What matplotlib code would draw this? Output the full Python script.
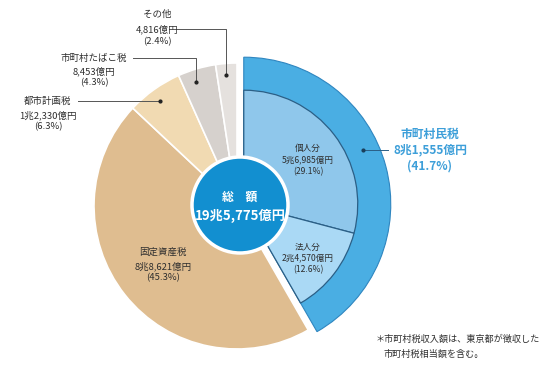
import numpy as np
import matplotlib
matplotlib.use("Agg")
import matplotlib.pyplot as plt
from matplotlib.patches import Circle

plt.rcParams['font.family'] = ['Noto Sans CJK JP', 'DejaVu Sans']

# ---- data ----
main_labels = ["市町村民税", "固定資産税", "都市計画税", "市町村たばこ税", "その他"]
main_amounts = ["8兆1,555億円", "8兆8,621億円", "1兆2,330億円", "8,453億円", "4,816億円"]
main_pcts = [41.7, 45.3, 6.3, 4.3, 2.4]
sub_labels = ["個人分", "法人分"]
sub_amounts = ["5兆6,985億円", "2兆4,570億円"]
sub_pcts = [29.1, 12.6]
total_label = "総　額"
total_amount = "19兆5,775億円"
footnote = ["＊市町村税収入額は、東京都が徴収した", "市町村税相当額を含む。"]

main_colors = ["#4aaee3", "#dfbd90", "#f1dab2", "#d6d1cd", "#e5e1de"]
sub_colors = ["#8fc7eb", "#aad9f5"]

W, H = 555, 377
fig = plt.figure(figsize=(W / 100, H / 100), dpi=100)
ax = fig.add_axes([0, 0, 1, 1])

def Y(y):
    return H - y

cx, cy, R = 237, Y(206), 143
expl = 7.0

wedges, _ = ax.pie(main_pcts, radius=R, center=(cx, cy), startangle=90,
                   counterclock=False, colors=main_colors,
                   explode=[expl, 0, 0, 0, 0],
                   wedgeprops=dict(edgecolor="white", linewidth=1.2))
wedges[0].set_radius(R + 4)
wedges[0].set_edgecolor("#2f86c0")
wedges[0].set_linewidth(0.8)

# explosion offset of the blue wedge
mid = np.deg2rad(90 - main_pcts[0] * 3.6 / 2)
bx = cx + expl * np.cos(mid)
by = cy + expl * np.sin(mid)

sw, _ = ax.pie(sub_pcts + [100 - sum(sub_pcts)], radius=114, center=(bx, by),
               startangle=90, counterclock=False,
               colors=sub_colors + ["none"],
               wedgeprops=dict(edgecolor="#2b5f86", linewidth=0.9))
sw[2].set_visible(False)

# center circle
ax.add_patch(Circle((240, Y(205)), 48, facecolor="#128fd0", edgecolor="white",
                    linewidth=2.5, zorder=5))
ax.text(240, Y(197), total_label, color="white", fontsize=8.5, fontweight="bold",
        ha="center", va="center", zorder=6)
ax.text(240, Y(216), total_amount, color="white", fontsize=9.5, fontweight="bold",
        ha="center", va="center", zorder=6)

lab_fs = 6.8
txtc = "#2e2e2e"

def block(x, ys, lines, fs=lab_fs, color=txtc, weight="normal"):
    for yy, t in zip(ys, lines):
        ax.text(x, Y(yy), t, fontsize=fs, color=color, ha="center", va="center",
                fontweight=weight)

# 固定資産税
block(163, [252, 266, 278], [main_labels[1], main_amounts[1], f"({main_pcts[1]}%)"])
# 個人分 / 法人分
block(308, [148, 160, 172], [sub_labels[0], sub_amounts[0], f"({sub_pcts[0]}%)"], fs=6.2)
block(308, [247, 258, 270], [sub_labels[1], sub_amounts[1], f"({sub_pcts[1]}%)"], fs=6.2)
# 都市計画税
block(48, [101, 115, 127], [main_labels[2], main_amounts[2], f"({main_pcts[2]}%)"])
# たばこ
block(94, [58, 71, 83], [main_labels[3], main_amounts[3], f"({main_pcts[3]}%)"])
# その他
block(157, [14, 29, 42], [main_labels[4], main_amounts[4], f"({main_pcts[4]}%)"])
# 市町村民税
block(430, [134, 150, 166], [main_labels[0], main_amounts[0], f"({main_pcts[0]}%)"],
      fs=8.5, color="#3d9fd9", weight="bold")

# leader lines and dots
lc = "#555555"
ax.plot([176, 226, 226], [Y(29), Y(29), Y(75)], color=lc, lw=0.7)
ax.plot([226], [Y(75)], "o", color="#222222", ms=2)
ax.plot([133, 196, 196], [Y(58), Y(58), Y(82)], color=lc, lw=0.7)
ax.plot([196], [Y(82)], "o", color="#222222", ms=2)
ax.plot([78, 160], [Y(101), Y(101)], color=lc, lw=0.7)
ax.plot([160], [Y(101)], "o", color="#222222", ms=2)
ax.plot([363, 388], [Y(150), Y(150)], color="#2b5f86", lw=0.7)
ax.plot([363], [Y(150)], "o", color="#1a3f5c", ms=2)

# footnote
ax.text(376, Y(339), footnote[0], fontsize=6.6, color=txtc, ha="left", va="center")
ax.text(383, Y(354), footnote[1], fontsize=6.6, color=txtc, ha="left", va="center")

ax.set_xlim(0, W)
ax.set_ylim(0, H)
ax.set_aspect("equal")
ax.axis("off")
fig.savefig("out.png", dpi=100, facecolor="white")
